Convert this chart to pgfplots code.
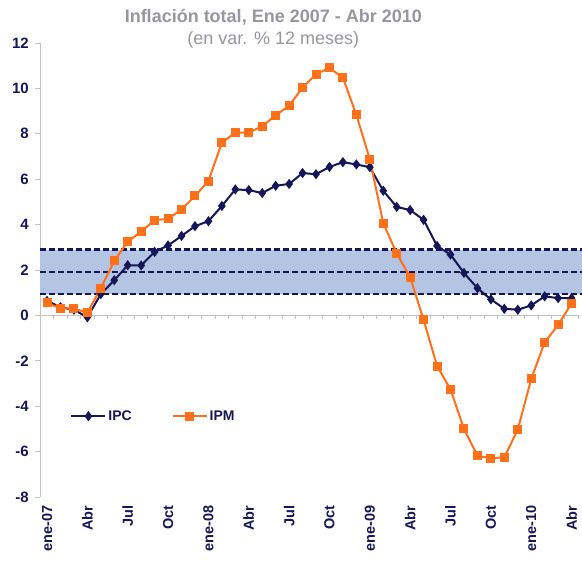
\documentclass[border=0pt]{standalone}
\usepackage{pgfplots}
\pgfplotsset{compat=1.18}
\usepackage{fontspec}
\setmainfont{Liberation Sans}
\definecolor{navy}{RGB}{20,22,88}
\definecolor{ipm}{RGB}{255,112,24}
\definecolor{band}{RGB}{180,196,227}
\definecolor{axgray}{RGB}{195,195,195}
\definecolor{titlegray}{RGB}{150,150,160}
\pgfplotstableread{
i ipc ipm
0 0.64 0.55
1 0.36 0.31
2 0.25 0.30
3 -0.08 0.12
4 0.94 1.20
5 1.55 2.40
6 2.21 3.25
7 2.20 3.69
8 2.80 4.20
9 3.08 4.25
10 3.50 4.67
11 3.93 5.26
12 4.15 5.92
13 4.82 7.61
14 5.55 8.05
15 5.52 8.05
16 5.39 8.34
17 5.71 8.81
18 5.79 9.24
19 6.27 10.03
20 6.22 10.63
21 6.54 10.90
22 6.75 10.47
23 6.65 8.83
24 6.53 6.88
25 5.49 4.06
26 4.78 2.73
27 4.64 1.68
28 4.21 -0.20
29 3.06 -2.23
30 2.68 -3.26
31 1.87 -5.00
32 1.20 -6.18
33 0.71 -6.30
34 0.29 -6.25
35 0.25 -5.03
36 0.44 -2.80
37 0.84 -1.19
38 0.76 -0.42
39 0.76 0.53
}\datatable
\begin{document}
\begin{tikzpicture}
\useasboundingbox (-40.3pt,-68pt) rectangle (541.7pt,497pt);
% zero line with month ticks
\begin{axis}[
  at={(0pt,0pt)}, anchor=south west,
  scale only axis, width=538pt, height=454pt,
  xmin=-0.5, xmax=39.5, ymin=-8, ymax=12,
  axis x line=middle, axis y line=none,
  x axis line style={axgray, line width=0.8pt, -},
  xtick={-0.5,0.5,...,39.5}, xticklabels={},
  tick align=center, major tick length=4pt,
  xtick style={axgray, line width=0.8pt, yshift=-2pt},
]
\end{axis}
\begin{axis}[
  at={(0pt,0pt)}, anchor=south west,
  scale only axis, width=538pt, height=454pt,
  xmin=-0.5, xmax=39.5, ymin=-8, ymax=12,
  clip=false,
  axis x line=bottom, axis y line=left,
  x axis line style={draw=none},
  y axis line style={axgray, line width=0.8pt, -},
  xtick={0,3,...,39},
  xticklabels={ene-07,Abr,Jul,Oct,ene-08,Abr,Jul,Oct,ene-09,Abr,Jul,Oct,ene-10,Abr},
  x tick style={draw=none},
  xticklabel style={rotate=90, anchor=east, font=\bfseries\fontsize{14.5}{14.5}\selectfont, text=navy},
  ytick={-8,-6,...,12},
  y tick style={axgray, line width=0.8pt},
  tick align=outside, major tick length=5pt,
  yticklabel style={font=\bfseries\fontsize{15}{15}\selectfont, text=navy, xshift=-3pt},
  /pgf/number format/assume math mode=true,
  legend style={at={(0.05,0.178)}, anchor=west, draw=none, fill=none,
    font=\bfseries\fontsize{14}{14}\selectfont, text=navy, legend columns=2},
  legend image code/.code={\draw[mark repeat=2,mark phase=2,#1] plot coordinates {(0pt,0pt) (17pt,0pt) (34pt,0pt)};},
  /tikz/every even column/.append style={column sep=38pt},
]
\fill[band] (axis cs:-0.5,0.93) rectangle (axis cs:39.8,2.9);
\draw[navy, line width=2.2pt, dash pattern=on 6pt off 3pt] (axis cs:-0.5,0.93) -- (axis cs:39.8,0.93);
\draw[navy, line width=2.2pt, dash pattern=on 6pt off 3pt] (axis cs:-0.5,1.92) -- (axis cs:39.8,1.92);
\draw[navy, line width=2.2pt, dash pattern=on 6pt off 3pt] (axis cs:-0.5,2.9) -- (axis cs:39.8,2.9);
\addplot[navy, line width=2pt, mark=diamond*, mark size=3.5pt, mark options={solid}] table[x=i, y=ipc] {\datatable};
\addlegendentry{IPC}
\addplot[ipm, line width=2pt, mark=square*, mark size=3.5pt, mark options={solid}] table[x=i, y=ipm] {\datatable};
\addlegendentry{IPM}
\end{axis}
\node[anchor=base, text=titlegray, font=\bfseries\fontsize{18}{18}\selectfont] at (233pt,474pt) {Inflación total, Ene 2007 - Abr 2010};
\node[anchor=base, text=titlegray, font=\fontsize{18}{18}\selectfont] at (233pt,452pt) {(en var. \% 12 meses)};
\end{tikzpicture}
\end{document}
